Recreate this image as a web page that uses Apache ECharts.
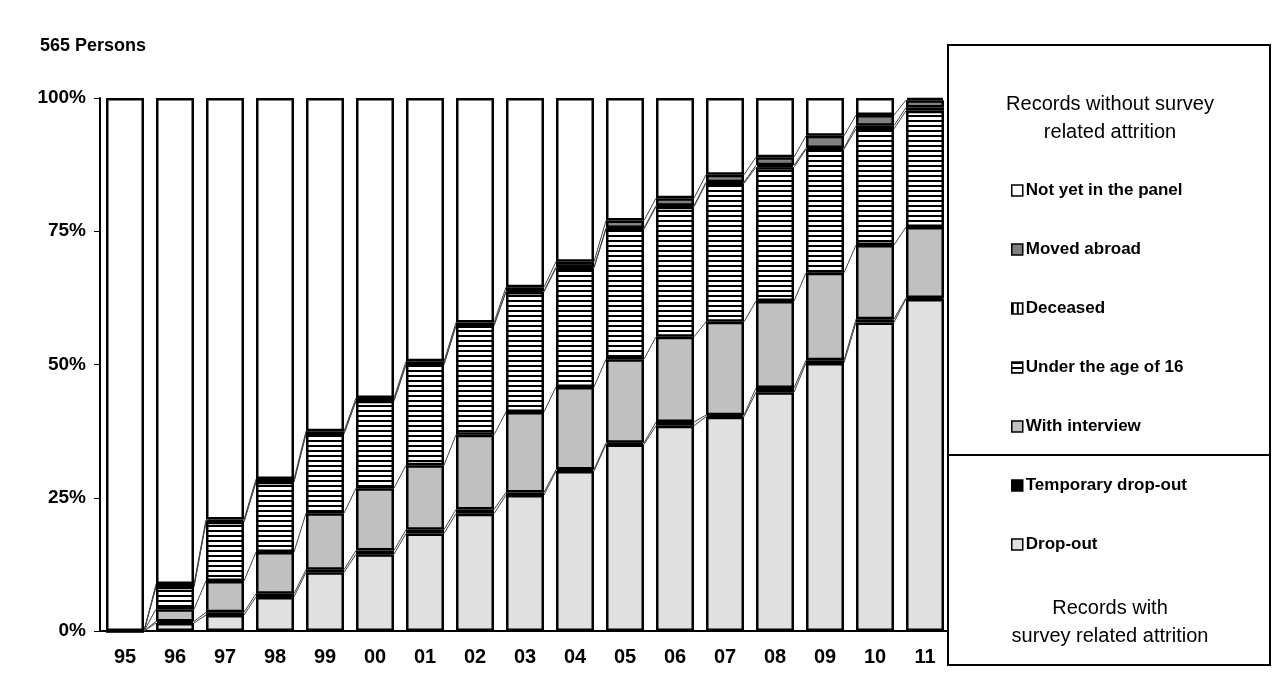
<!DOCTYPE html>
<html>
<head>
<meta charset="utf-8">
<script src="https://cdn.jsdelivr.net/npm/echarts@6/dist/echarts.min.js"></script>
<style>html,body{margin:0;padding:0;background:#fff}#main{width:1280px;height:678px}</style>
</head>
<body>
<div id="main"></div>
<script>
var years = ['95','96','97','98','99','00','01','02','03','04','05','06','07','08','09','10','11'];
var dropOut   = [0,1.5,3,6.4,11,14.4,18.3,22,25.5,30,35,38.5,40.2,44.8,50.3,57.9,62.3];
var tempDrop  = [0,0.3,0.5,0.6,0.5,0.7,0.7,0.8,0.5,0.3,0.3,0.7,0.3,0.8,0.5,0.6,0.2];
var interview = [0,2.3,5.9,7.8,10.6,11.7,12.1,14.0,15.1,15.5,15.7,16.0,17.5,16.3,16.4,13.9,13.3];
var under16   = [0,4.2,11.1,13.2,14.9,16.4,18.9,20.5,22.5,22.3,24.4,24.4,26.0,25.1,23.2,21.8,21.8];
var deceased  = [0,0,0,0,0,0,0,0,0.2,0.2,0.2,0.2,0.2,0.4,0.2,0.6,0.6];
var moved     = [0,0.5,0.4,0.5,0.5,0.5,0.6,0.6,0.7,1.0,1.4,1.4,1.4,1.5,2.3,2.0,1.4];
var notYet = years.map(function (y, i) {
    return +(100 - dropOut[i] - tempDrop[i] - interview[i] - under16[i] - deceased[i] - moved[i]).toFixed(1);
});

// fill patterns
function hStripes() {
    var c = document.createElement('canvas'); c.width = 4; c.height = 5;
    var g = c.getContext('2d');
    g.fillStyle = '#fff'; g.fillRect(0, 0, 4, 5);
    g.fillStyle = '#000'; g.fillRect(0, 0, 4, 2);
    return c;
}
function vStripes() {
    var c = document.createElement('canvas'); c.width = 5; c.height = 4;
    var g = c.getContext('2d');
    g.fillStyle = '#fff'; g.fillRect(0, 0, 5, 4);
    g.fillStyle = '#000'; g.fillRect(0, 0, 2, 4);
    return c;
}

var stackList = [
    { name: 'Drop-out', data: dropOut, color: '#e0e0e0' },
    { name: 'Temporary drop-out', data: tempDrop, color: '#000' },
    { name: 'With interview', data: interview, color: '#c0c0c0' },
    { name: 'Under the age of 16', data: under16, color: { image: hStripes(), repeat: 'repeat' } },
    { name: 'Deceased', data: deceased, color: { image: vStripes(), repeat: 'repeat' } },
    { name: 'Moved abroad', data: moved, color: '#808080' },
    { name: 'Not yet in the panel', data: notYet, color: '#fff' }
];

var series = stackList.map(function (s) {
    return {
        name: s.name, type: 'bar', stack: 'all', data: s.data, barWidth: '76%',
        itemStyle: { color: s.color, borderColor: '#000', borderWidth: 2.5 },
        emphasis: { disabled: true }
    };
});

// series lines between bars at each boundary
var cum = years.map(function () { return 0; });
var lineData = [];
stackList.slice(0, 6).forEach(function (s) {
    for (var i = 0; i < years.length; i++) cum[i] += s.data[i];
    for (var j = 0; j < years.length - 1; j++) lineData.push([j, cum[j], cum[j + 1]]);
});
series.push({
    type: 'custom', data: lineData, z: 1, silent: true,
    renderItem: function (params, api) {
        var i = api.value(0);
        var half = api.size([1, 0])[0] * 0.38;
        var p1 = api.coord([i, api.value(1)]);
        var p2 = api.coord([i + 1, api.value(2)]);
        return { type: 'line', shape: { x1: p1[0] + half, y1: p1[1], x2: p2[0] - half, y2: p2[1] },
                 style: { stroke: '#444', lineWidth: 1 } };
    }
});

var chart = echarts.init(document.getElementById('main'));
chart.setOption({
    animation: false,
    textStyle: { fontFamily: 'Liberation Sans, Arial' },
    grid: { left: 100, right: 330, top: 98, bottom: 47 },
    xAxis: {
        type: 'category', data: years,
        axisLine: { lineStyle: { color: '#000', width: 2 } },
        axisTick: { show: false },
        axisLabel: { color: '#000', fontSize: 20, fontWeight: 'bold', margin: 16 }
    },
    yAxis: {
        type: 'value', min: 0, max: 100, interval: 25,
        axisLine: { show: true, lineStyle: { color: '#000', width: 2 } },
        axisTick: { show: true, inside: false, length: 6, lineStyle: { color: '#000' } },
        splitLine: { show: false },
        axisLabel: { formatter: '{value}%', color: '#000', fontSize: 19, fontWeight: 'bold', margin: 14 }
    },
    legend: {
        orient: 'vertical', left: 1006, top: 177, z: 20,
        itemWidth: 11, itemHeight: 11, itemGap: 42,
        icon: 'rect',
        itemStyle: { borderColor: '#000', borderWidth: 1.5 },
        textStyle: { fontSize: 17, fontWeight: 'bold', color: '#000', padding: [0, 0, 0, -2] },
        data: ['Not yet in the panel', 'Moved abroad', 'Deceased', 'Under the age of 16',
               'With interview', 'Temporary drop-out', 'Drop-out']
    },
    graphic: [
        { type: 'text', left: 40, top: 37, style: { text: '565 Persons', fontSize: 18, fontWeight: 'bold', fill: '#000', fontFamily: 'Liberation Sans, Arial' } },
        { type: 'rect', z: 10, shape: { x: 948, y: 45, width: 322, height: 620 }, style: { fill: '#fff', stroke: '#000', lineWidth: 2 } },
        { type: 'line', z: 11, shape: { x1: 948, y1: 455, x2: 1270, y2: 455 }, style: { stroke: '#000', lineWidth: 2 } },
        { type: 'text', z: 11, x: 1110, y: 90, style: { text: 'Records without survey\nrelated attrition', align: 'center', fontSize: 20, lineHeight: 28, fill: '#000', fontFamily: 'Liberation Sans, Arial' } },
        { type: 'text', z: 11, x: 1110, y: 594, style: { text: 'Records with\nsurvey related attrition', align: 'center', fontSize: 20, lineHeight: 28, fill: '#000', fontFamily: 'Liberation Sans, Arial' } }
    ],
    series: series
});
</script>
</body>
</html>
